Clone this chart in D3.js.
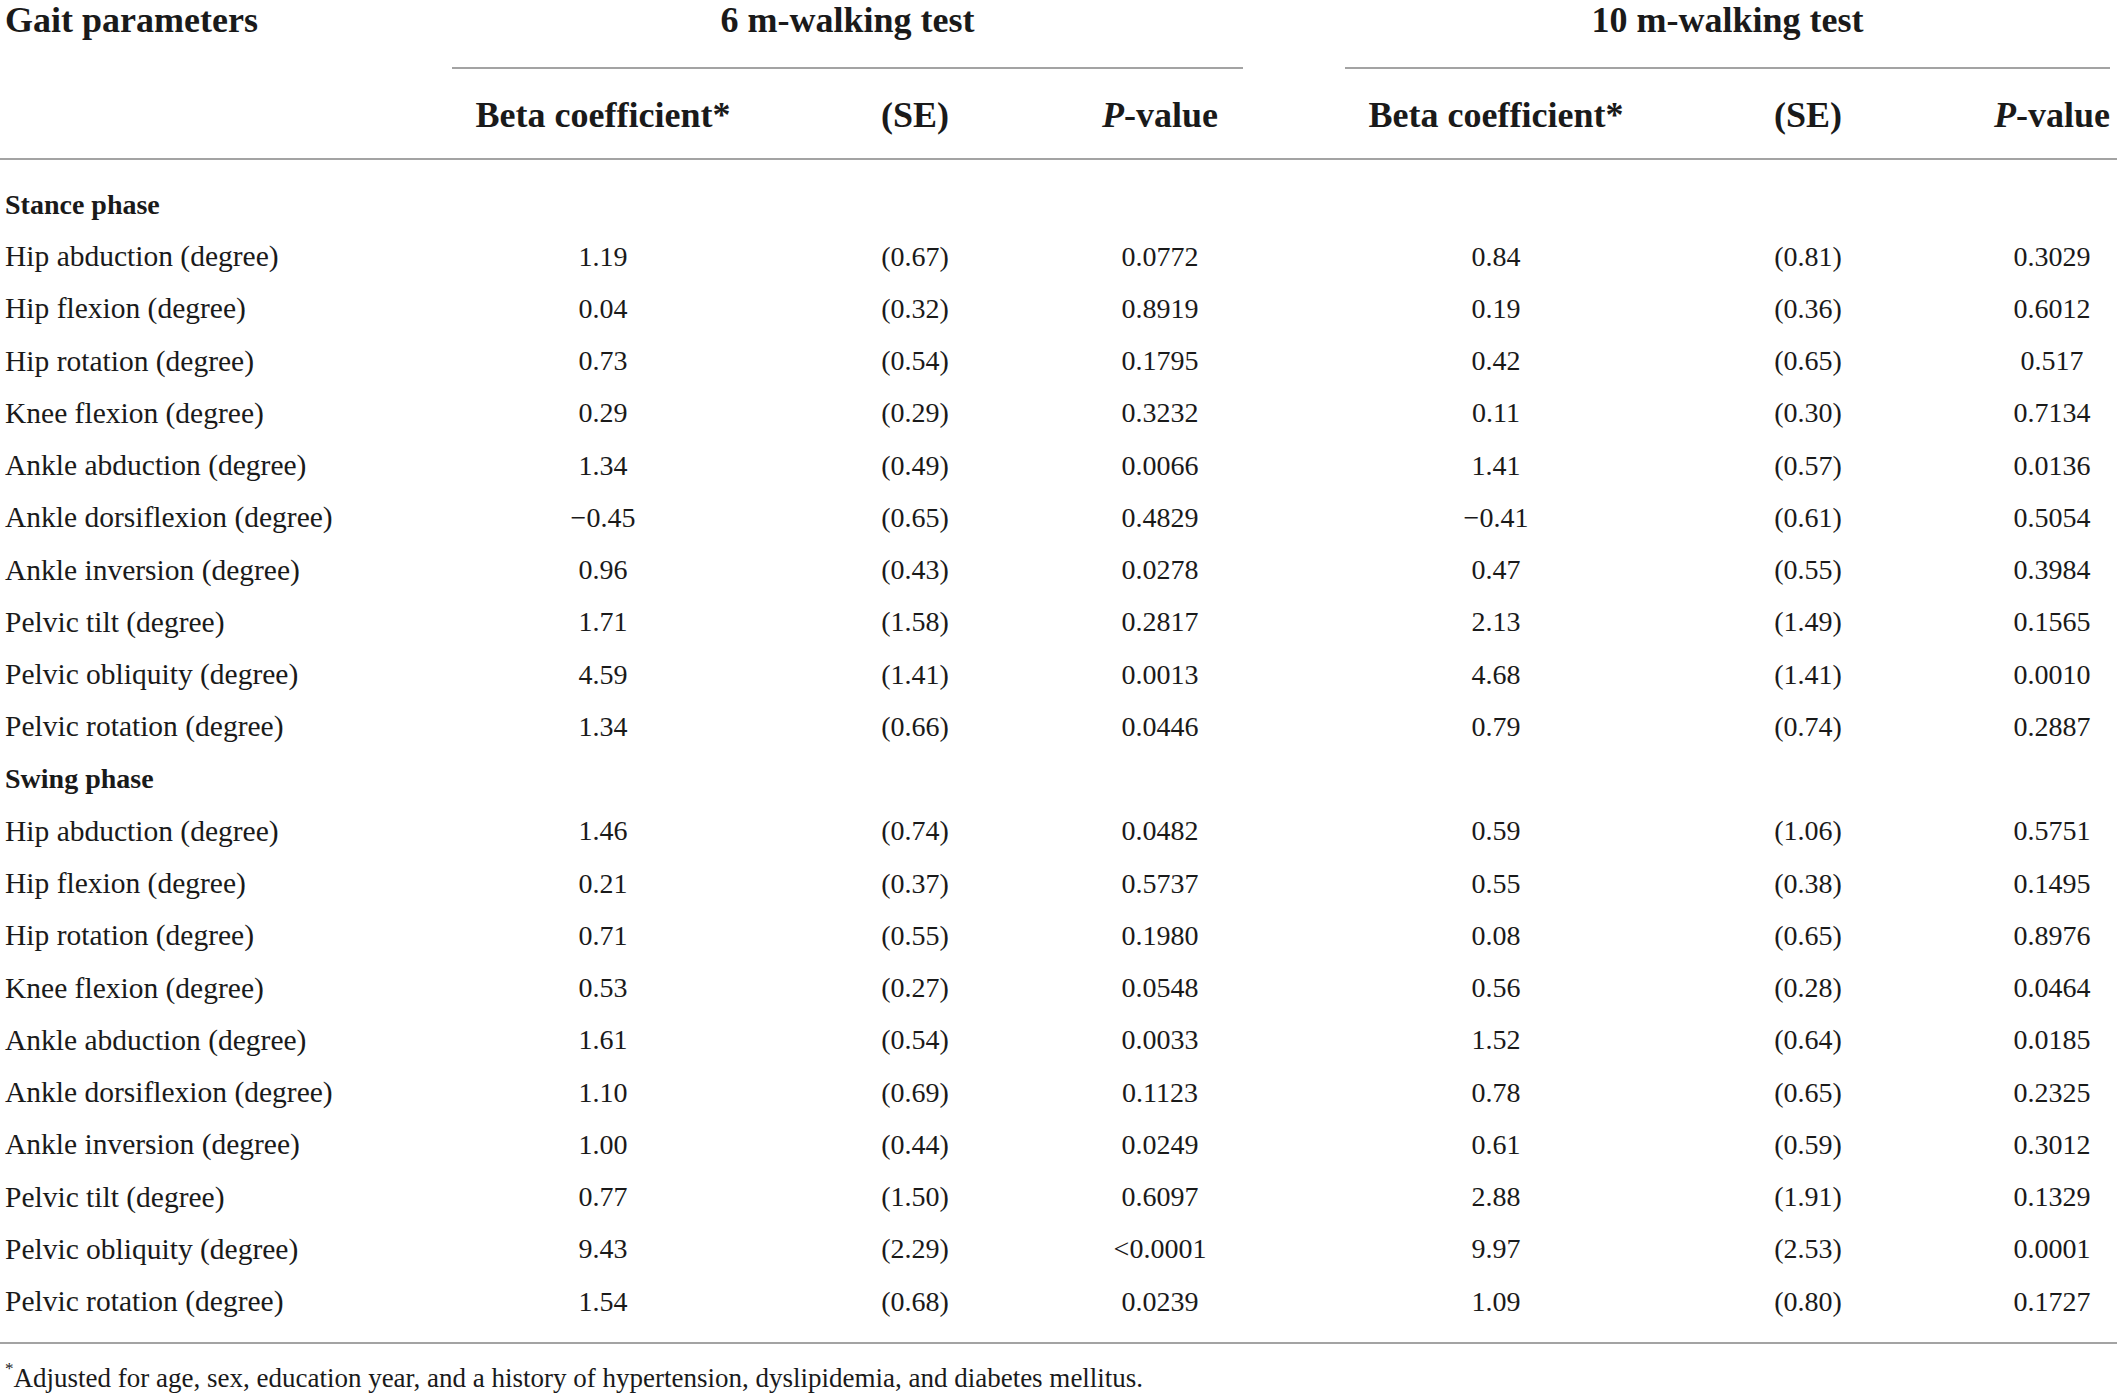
<!DOCTYPE html>
<html>
<head>
<meta charset="utf-8">
<script src="https://cdn.jsdelivr.net/npm/d3@7"></script>
<style>
  body { margin: 0; background: #fff; }
  text { font-family: "Liberation Serif", "DejaVu Serif", serif; fill: #1a1a1a; }
</style>
</head>
<body>
<div id="table"></div>
<script>
// table contents
const sections = ["Stance phase", "Swing phase"];
const params = ["Hip abduction (degree)", "Hip flexion (degree)", "Hip rotation (degree)",
  "Knee flexion (degree)", "Ankle abduction (degree)", "Ankle dorsiflexion (degree)",
  "Ankle inversion (degree)", "Pelvic tilt (degree)", "Pelvic obliquity (degree)",
  "Pelvic rotation (degree)"];

const stanceBeta6 = [1.19, 0.04, 0.73, 0.29, 1.34, -0.45, 0.96, 1.71, 4.59, 1.34];
const stanceSE6 = [0.67, 0.32, 0.54, 0.29, 0.49, 0.65, 0.43, 1.58, 1.41, 0.66];
const stanceP6 = ["0.0772", "0.8919", "0.1795", "0.3232", "0.0066", "0.4829", "0.0278", "0.2817", "0.0013", "0.0446"];
const stanceBeta10 = [0.84, 0.19, 0.42, 0.11, 1.41, -0.41, 0.47, 2.13, 4.68, 0.79];
const stanceSE10 = [0.81, 0.36, 0.65, 0.30, 0.57, 0.61, 0.55, 1.49, 1.41, 0.74];
const stanceP10 = ["0.3029", "0.6012", "0.517", "0.7134", "0.0136", "0.5054", "0.3984", "0.1565", "0.0010", "0.2887"];

const swingBeta6 = [1.46, 0.21, 0.71, 0.53, 1.61, 1.10, 1.00, 0.77, 9.43, 1.54];
const swingSE6 = [0.74, 0.37, 0.55, 0.27, 0.54, 0.69, 0.44, 1.50, 2.29, 0.68];
const swingP6 = ["0.0482", "0.5737", "0.1980", "0.0548", "0.0033", "0.1123", "0.0249", "0.6097", "<0.0001", "0.0239"];
const swingBeta10 = [0.59, 0.55, 0.08, 0.56, 1.52, 0.78, 0.61, 2.88, 9.97, 1.09];
const swingSE10 = [1.06, 0.38, 0.65, 0.28, 0.64, 0.65, 0.59, 1.91, 2.53, 0.80];
const swingP10 = ["0.5751", "0.1495", "0.8976", "0.0464", "0.0185", "0.2325", "0.3012", "0.1329", "0.0001", "0.1727"];

const groups = ["6 m-walking test", "10 m-walking test"];
const colKeys = ["b6", "s6", "p6", "b10", "s10", "p10"];
const footnote = "Adjusted for age, sex, education year, and a history of hypertension, dyslipidemia, and diabetes mellitus.";

const width = 2117, height = 1397;

const svg = d3.select("#table").append("svg")
  .attr("width", width)
  .attr("height", height);

// flatten into rows: section header, then 10 param rows
const rows = [];
const blocks = [
  [stanceBeta6, stanceSE6, stanceP6, stanceBeta10, stanceSE10, stanceP10],
  [swingBeta6, swingSE6, swingP6, swingBeta10, swingSE10, swingP10]
];
sections.forEach((s, si) => {
  rows.push({ label: s, section: true });
  params.forEach((p, i) => {
    const b = blocks[si];
    rows.push({ label: p, b6: b[0][i], s6: b[1][i], p6: b[2][i], b10: b[3][i], s10: b[4][i], p10: b[5][i] });
  });
});

const fmtB = d => (d < 0 ? "\u2212" : "") + d3.format(".2f")(Math.abs(d));
const fmtSE = d => "(" + d3.format(".2f")(d) + ")";
const fmt = { b6: fmtB, s6: fmtSE, p6: d => d, b10: fmtB, s10: fmtSE, p10: d => d };

// column centres
const x = d3.scaleOrdinal()
  .domain(colKeys)
  .range([603, 915, 1160, 1496, 1808, 2052]);

const gx = d3.scaleOrdinal()
  .domain(groups)
  .range([[452, 1243], [1345, 2110]]);

// row centres
const y = d3.scaleLinear()
  .domain([0, rows.length - 1])
  .range([204, 1301]);

const labelX = 5;

// header
svg.append("text")
  .attr("x", labelX).attr("y", 20)
  .attr("dominant-baseline", "central")
  .style("font-size", "36px").style("font-weight", "bold")
  .text("Gait parameters");

const grp = svg.selectAll(".grp")
  .data(groups)
  .join("g")
  .attr("class", "grp");

grp.append("text")
  .attr("x", d => (gx(d)[0] + gx(d)[1]) / 2)
  .attr("y", 20)
  .attr("text-anchor", "middle")
  .attr("dominant-baseline", "central")
  .style("font-size", "36px").style("font-weight", "bold")
  .text(d => d);

grp.append("line")
  .attr("x1", d => gx(d)[0]).attr("x2", d => gx(d)[1])
  .attr("y1", 68).attr("y2", 68)
  .attr("stroke", "#a3a3a3").attr("stroke-width", 2);

const colHeads = svg.selectAll(".colhead")
  .data(colKeys)
  .join("text")
  .attr("class", "colhead")
  .attr("x", d => x(d))
  .attr("y", 115)
  .attr("text-anchor", "middle")
  .attr("dominant-baseline", "central")
  .style("font-size", "36px").style("font-weight", "bold");

colHeads.each(function(d) {
  const t = d3.select(this);
  if (d[0] === "b") t.text("Beta coefficient*");
  else if (d[0] === "s") t.text("(SE)");
  else {
    t.append("tspan").style("font-style", "italic").text("P");
    t.append("tspan").text("-value");
  }
});

// rules
[[0, width, 159], [0, width, 1343]].forEach(r => {
  svg.append("line")
    .attr("x1", r[0]).attr("x2", r[1])
    .attr("y1", r[2]).attr("y2", r[2])
    .attr("stroke", "#a3a3a3").attr("stroke-width", 2);
});

// body rows
const row = svg.selectAll(".row")
  .data(rows)
  .join("g")
  .attr("class", "row")
  .attr("transform", (d, i) => `translate(0,${y(i)})`);

row.append("text")
  .attr("x", labelX)
  .attr("dominant-baseline", "central")
  .style("font-size", d => d.section ? "28px" : "29.5px")
  .style("font-weight", d => d.section ? "bold" : "normal")
  .text(d => d.label);

row.filter(d => !d.section).selectAll(".cell")
  .data(d => colKeys.map(k => ({ k, v: d[k] })))
  .join("text")
  .attr("class", "cell")
  .attr("x", d => x(d.k))
  .attr("text-anchor", "middle")
  .attr("dominant-baseline", "central")
  .style("font-size", "28px")
  .text(d => fmt[d.k](d.v));

// footnote
const fn = svg.append("text")
  .attr("x", labelX).attr("y", 1378)
  .attr("dominant-baseline", "central")
  .style("font-size", "27px");
fn.append("tspan").attr("baseline-shift", "super").style("font-size", "17px").text("*");
fn.append("tspan").text(footnote);
</script>
</body>
</html>
